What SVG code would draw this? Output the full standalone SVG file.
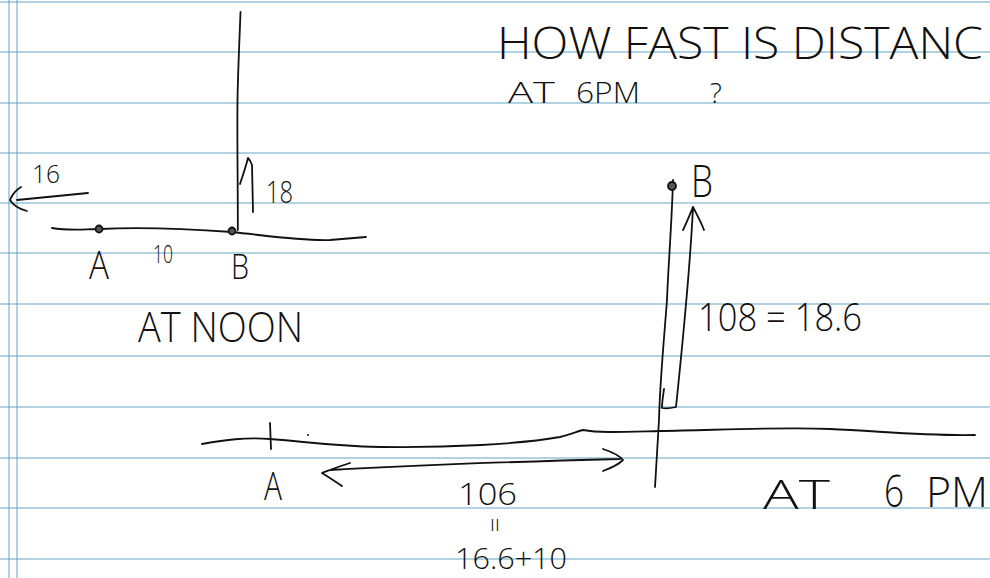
<svg xmlns="http://www.w3.org/2000/svg" width="990" height="578" viewBox="0 0 990 578">
<style>
.rule{stroke:#4f9bbd;stroke-opacity:0.45;stroke-width:2;fill:none}
.ink{stroke:#111;stroke-width:1.8;fill:none;stroke-linecap:round;stroke-linejoin:round}
.dot{stroke:#111;stroke-width:1.8;fill:#555}
.t{font-family:"Open Sans","Liberation Sans",sans-serif;font-weight:300;fill:#111}
</style>
<rect width="990" height="578" fill="#fff"/>
<g id="paper">
<path class="rule" d="M0,2H990M0,52H990M0,103H990M0,153H990M0,203H990M0,253H990M0,304H990M0,356H990M0,407H990M0,458H990M0,508H990M0,559H990"/>
<path class="rule" d="M9,0V578M17,0V578"/>
</g>
<g id="title">
<text class="t" x="497" y="59" font-size="44" textLength="486" lengthAdjust="spacingAndGlyphs">HOW FAST IS DISTANC</text>
<text class="t" x="508" y="103" font-size="29" textLength="47" lengthAdjust="spacingAndGlyphs">AT</text>
<text class="t" x="576" y="103" font-size="29" textLength="64" lengthAdjust="spacingAndGlyphs">6PM</text>
<text class="t" x="710" y="103" font-size="28">?</text>
</g>
<g id="noon">
<path class="ink" d="M240.5,12 C239.5,40 238,70 237.5,100 C237,140 238,190 237.8,230"/>
<path class="ink" d="M52,228 C70,231 85,229 100,229 C140,227 190,229 232,232 C270,236 300,241 330,240 L366,237"/>
<circle class="dot" cx="99" cy="229" r="3.5"/>
<circle class="dot" cx="232" cy="231" r="3.5"/>
<path class="ink" d="M253,212 L252,165 C251,162 250,160 248,158 C246,166 243,175 240,184"/>
<path class="ink" d="M88,193 L17,200 M21,187 C16,190 12,195 10,200 C13,205 19,209 27,211"/>
<text class="t" x="32" y="183" font-size="25" textLength="28" lengthAdjust="spacingAndGlyphs">16</text>
<text class="t" x="266" y="203" font-size="32" textLength="27" lengthAdjust="spacingAndGlyphs">18</text>
<text class="t" x="89" y="279" font-size="39" textLength="20" lengthAdjust="spacingAndGlyphs">A</text>
<text class="t" x="153" y="263" font-size="25" textLength="20" lengthAdjust="spacingAndGlyphs">10</text>
<text class="t" x="231" y="279" font-size="35" textLength="18" lengthAdjust="spacingAndGlyphs">B</text>
<text class="t" x="138" y="342" font-size="42" textLength="165" lengthAdjust="spacingAndGlyphs">AT NOON</text>
</g>
<g id="sixpm">
<path class="ink" d="M202,444 C225,440 245,437 270,439 C300,441 330,446 380,447 C450,448 520,444 560,437 C570,435 578,431 583,430 C600,433 620,432 660,431 C720,430 780,427 830,429 C880,431 920,436 975,435"/>
<path class="ink" d="M270,423 L271,449"/>
<circle cx="308" cy="435" r="1" fill="#111"/>
<path class="ink" d="M673,180 C672,220 668,270 667,300 C664,340 660,380 659,420 C657,450 656,470 655,487"/>
<circle class="dot" cx="672" cy="186" r="4"/>
<path class="ink" d="M693,207 C690,270 683,340 676,407 C672,408 666,409 662,408 C662,402 663,396 664,389 M683,230 C687,222 690,214 693,207 C697,215 701,222 704,230"/>
<path class="ink" d="M330,470 C400,466 500,462 620,459 M350,463 C340,466 330,470 322,473 C330,478 336,482 342,486 M603,449 C612,452 619,455 623,460 C618,465 611,468 603,471"/>
<text class="t" x="691" y="197" font-size="44" textLength="22" lengthAdjust="spacingAndGlyphs">B</text>
<text class="t" x="698" y="331" font-size="38" textLength="164" lengthAdjust="spacingAndGlyphs">108 = 18.6</text>
<text class="t" x="264" y="500" font-size="38" textLength="18" lengthAdjust="spacingAndGlyphs">A</text>
<text class="t" x="458" y="505" font-size="32" textLength="59" lengthAdjust="spacingAndGlyphs">106</text>
<text class="t" x="486" y="525" font-size="26" text-anchor="middle" transform="rotate(90 486 525)">=</text>
<text class="t" x="455" y="569" font-size="30" textLength="112" lengthAdjust="spacingAndGlyphs">16.6+10</text>
<text class="t" x="763" y="509" font-size="40" textLength="67" lengthAdjust="spacingAndGlyphs">AT</text>
<text class="t" x="884" y="507" font-size="44" textLength="20" lengthAdjust="spacingAndGlyphs">6</text>
<text class="t" x="926" y="507" font-size="42" textLength="62" lengthAdjust="spacingAndGlyphs">PM</text>
</g>
</svg>
